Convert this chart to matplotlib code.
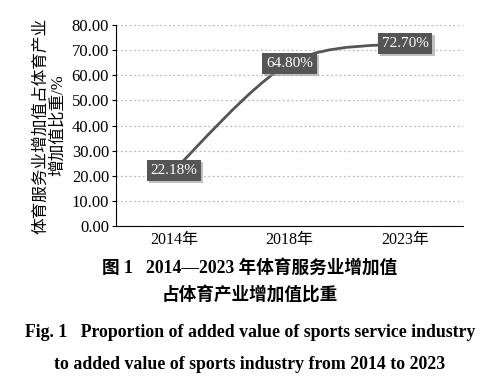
import numpy as np
import matplotlib.pyplot as plt
from matplotlib.path import Path
from matplotlib.patches import PathPatch
import matplotlib.patheffects as pe

years = ['2014年', '2018年', '2023年']
share = [22.18, 64.80, 72.70]
yticks = [0, 10, 20, 30, 40, 50, 60, 70, 80]

plt.rcParams['font.family'] = ['Liberation Serif', 'Noto Sans CJK SC']
plt.rcParams['axes.unicode_minus'] = False

fig = plt.figure(figsize=(5, 3.88), dpi=100)
ax = fig.add_axes([0.232, 0.4175, 0.694, 0.518])

x = np.arange(len(years))
y = np.array(share)

# 平滑曲线 (Catmull-Rom -> Bezier)
px = np.concatenate([[x[0]], x, [x[-1]]])
py = np.concatenate([[y[0]], y, [y[-1]]])
verts = [(x[0], y[0])]
codes = [Path.MOVETO]
for i in range(1, len(px) - 2):
    c1 = (px[i] + (px[i + 1] - px[i - 1]) / 6, py[i] + (py[i + 1] - py[i - 1]) / 6)
    c2 = (px[i + 1] - (px[i + 2] - px[i]) / 6, py[i + 1] - (py[i + 2] - py[i]) / 6)
    verts += [c1, c2, (px[i + 1], py[i + 1])]
    codes += [Path.CURVE4] * 3
ax.add_patch(PathPatch(Path(verts, codes), fill=False, color='#555555', lw=2, zorder=3))

for xi, yi in zip(x, y):
    t = ax.text(xi, yi, '%.2f%%' % yi, ha='center', va='center', color='white', fontsize=11,
                bbox=dict(boxstyle='square,pad=0.25', fc='#555555', ec='none'), zorder=5)
    t.get_bbox_patch().set_path_effects([pe.SimplePatchShadow(offset=(1.5, -1.5), shadow_rgbFace='#999999', alpha=0.6),
                                         pe.Normal()])

ax.set_xlim(-0.5, 2.5)
ax.set_ylim(0, 80)
ax.set_xticks(x)
ax.set_xticklabels(years, fontsize=11.5)
ax.set_yticks(yticks)
ax.set_yticklabels(['%.2f' % v for v in yticks], fontsize=12)
ax.tick_params(axis='x', length=0, pad=4)
ax.tick_params(axis='y', length=3, pad=2)
ax.grid(axis='y', color='#bbbbbb', linestyle=(0, (1.5, 2)), lw=0.9)
ax.set_axisbelow(True)
for s in ['top', 'right']:
    ax.spines[s].set_visible(False)
ax.set_ylabel('体育服务业增加值占体育产业\n增加值比重/%', fontsize=12, linespacing=1.05, labelpad=4)

fig.text(0.5, 0.31, '图 1   2014—2023 年体育服务业增加值', ha='center', va='center',
         fontsize=12.7, fontweight='bold')
fig.text(0.5, 0.24, '占体育产业增加值比重', ha='center', va='center', fontsize=12.7,
         fontweight='bold')
fig.text(0.5, 0.142, 'Fig. 1   Proportion of added value of sports service industry', ha='center',
         va='center', fontsize=12.8, fontweight='bold')
fig.text(0.5, 0.06, 'to added value of sports industry from 2014 to 2023', ha='center',
         va='center', fontsize=12.8, fontweight='bold')

plt.savefig('out.png', dpi=100)
